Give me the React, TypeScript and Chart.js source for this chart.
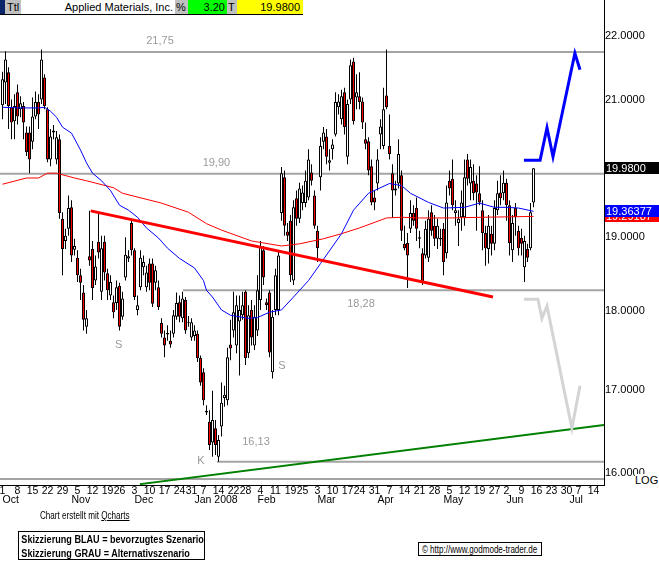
import React, { useEffect, useRef } from 'react';
import { Chart, registerables } from 'chart.js';
Chart.register(...registerables);

const FONT = 'Arial, "Liberation Sans", Helvetica, sans-serif';

// Daily candles of Applied Materials, one per trading day from 1 Oct 2007 (index 0) to 13 Jun 2008
const openP = [20.92,21.27,21.43,20.89,20.68,21.12,20.86,20.91,20.51,20.51,20.37,20.75,20.97,21.01,21.35,20.86,20.11,20.51,20.11,20.41,
19.26,18.95,19.12,19.42,18.83,18.72,18.48,18.25,17.80,18.74,18.84,18.41,18.94,18.26,18.94,18.51,18.21,18.12,18.11,18.34,
17.93,18.45,18.71,19.20,18.82,18.02,18.32,18.59,18.32,18.64,18.64,18.38,18.32,17.85,17.66,17.72,17.62,17.71,17.93,18.12,
17.91,18.15,17.86,17.66,17.68,17.71,17.40,17.22,16.74,16.61,16.36,16.53,16.19,16.55,16.90,16.87,17.57,17.75,17.56,17.87,
17.95,18.26,17.46,18.02,17.56,17.75,18.15,18.82,18.12,18.25,17.22,18.02,18.02,19.34,19.85,19.08,19.23,18.41,19.55,19.26,
19.48,19.48,19.56,19.92,19.59,19.09,19.85,20.37,20.45,20.06,20.26,20.48,20.89,20.71,21.12,20.15,21.01,21.60,21.04,21.06,
20.98,20.41,20.38,20.01,19.56,19.76,20.48,20.31,21.07,20.31,19.91,19.69,19.76,19.88,18.91,18.92,19.12,19.34,19.41,19.00,
18.78,18.75,18.72,19.35,19.16,18.98,18.99,19.12,18.78,19.80,19.83,19.34,19.20,19.28,19.28,20.11,19.76,19.80,19.76,19.62,
19.38,19.06,18.84,19.05,18.91,19.38,19.63,19.62,19.77,19.45,18.82,19.41,19.09,18.99,18.59,18.84,18.85,19.49];
const highP = [21.44,21.76,21.51,21.01,21.09,21.24,21.06,20.97,20.60,20.60,21.04,21.13,21.09,21.79,21.40,20.89,20.56,20.62,20.53,20.48,
19.35,19.12,19.59,19.52,18.98,18.82,18.57,18.35,18.02,19.37,18.95,18.75,19.34,19.02,19.02,18.57,18.48,18.21,18.41,18.38,
18.26,19.00,18.82,19.26,18.85,18.21,18.82,18.75,18.61,18.71,18.71,18.61,18.41,17.91,17.75,17.82,17.75,18.02,18.25,18.21,
18.26,18.19,17.94,17.91,17.82,17.75,17.43,17.27,16.81,16.75,16.99,16.63,16.45,17.09,17.05,17.53,17.89,18.26,18.21,18.21,
18.26,18.28,18.08,18.15,18.08,18.48,18.95,18.88,18.17,18.28,18.02,18.57,18.82,20.00,19.95,19.20,19.31,19.52,19.66,19.77,
19.73,19.95,20.26,20.04,19.66,19.16,20.44,20.59,20.56,20.26,20.41,21.12,21.09,21.16,21.19,21.01,21.63,21.66,21.40,21.43,
21.04,20.66,20.44,20.11,19.66,20.26,20.71,21.19,21.79,20.78,20.04,19.80,20.41,19.95,19.16,19.06,19.52,19.45,19.56,19.09,
18.85,19.23,19.38,19.45,19.31,19.26,19.12,19.20,19.73,19.95,20.11,19.52,19.38,19.66,20.11,20.19,20.11,20.04,19.88,20.01,
19.52,19.16,19.31,19.16,19.52,19.80,19.88,19.95,19.83,19.52,19.31,19.48,19.16,19.12,19.02,18.91,19.48,19.98];
const lowP = [20.71,20.94,20.56,20.41,20.41,20.63,20.74,20.41,20.16,19.91,20.26,20.71,20.56,20.94,20.86,20.07,20.01,20.41,20.04,19.26,
18.48,18.84,19.02,18.66,18.75,18.39,18.15,17.75,17.71,18.61,18.15,18.35,18.71,18.15,18.41,18.15,18.15,17.91,18.02,17.75,
17.89,18.41,18.66,18.75,18.15,17.95,18.28,18.48,18.26,18.28,18.06,18.28,18.02,17.66,17.41,17.62,17.53,17.66,17.89,17.86,
17.86,17.71,17.80,17.62,17.62,17.35,17.05,16.81,16.69,16.27,16.19,16.21,16.13,16.43,16.79,16.81,17.37,17.66,17.46,17.18,
17.89,17.31,17.40,17.56,17.50,17.68,18.02,18.35,18.02,17.41,17.14,17.95,17.95,19.23,19.02,18.95,18.39,18.35,19.16,19.20,
19.38,19.42,19.52,19.73,19.12,18.66,19.66,20.26,20.04,19.95,20.11,20.45,20.78,20.63,20.48,20.04,20.94,20.63,20.86,20.86,
20.56,20.26,19.88,19.45,19.38,19.66,20.26,20.26,20.86,20.11,19.27,19.59,19.69,18.95,18.82,18.31,19.06,19.16,18.95,18.85,
18.35,18.71,18.66,19.02,18.88,18.84,18.88,18.48,18.71,19.59,19.38,19.16,18.88,19.09,19.16,19.73,19.52,19.52,19.09,19.45,
18.82,18.61,18.64,18.75,18.82,19.31,19.45,19.52,19.23,18.75,18.66,19.02,18.75,18.75,18.39,18.66,18.82,19.42];
const closeP = [21.32,21.63,20.91,20.66,20.91,20.75,20.95,20.66,20.22,20.11,20.75,20.97,20.78,21.63,20.91,20.11,20.45,20.54,20.44,19.34,
18.84,19.02,19.41,18.75,18.88,18.48,18.38,17.89,17.91,18.68,18.31,18.60,18.79,18.85,18.52,18.28,18.39,17.99,18.32,17.80,
18.17,18.76,18.74,18.82,18.19,18.08,18.72,18.66,18.52,18.38,18.10,18.55,18.06,17.71,17.56,17.70,17.57,17.95,18.11,17.93,
18.17,17.75,17.85,17.86,17.75,17.40,17.09,16.87,16.72,16.33,16.63,16.33,16.39,16.84,16.94,17.41,17.52,17.99,18.08,18.02,
18.08,17.40,17.95,17.66,17.93,18.28,18.87,18.45,18.08,17.47,17.93,18.48,18.75,19.91,19.16,19.02,18.48,19.42,19.26,19.69,
19.63,19.80,20.11,19.80,19.16,18.85,20.31,20.51,20.15,20.10,20.33,20.97,20.98,21.06,20.59,20.94,21.54,20.68,21.12,20.97,
20.66,20.34,19.95,19.49,19.49,20.11,20.60,20.86,20.89,20.19,19.66,19.66,20.19,19.09,18.85,18.75,19.34,19.23,19.12,18.98,
18.38,19.12,19.26,19.09,18.98,19.16,18.97,18.66,19.49,19.69,19.45,19.38,19.26,19.49,19.85,19.83,20.00,19.62,19.63,19.49,
19.06,18.85,19.16,18.91,19.41,19.62,19.55,19.77,19.45,18.92,19.20,19.28,18.85,18.91,18.95,18.72,19.35,19.98];

// Moving averages (read at selected trading days)
const blueMaIdx = [0,6,12,14,16,18,20,23,26,28,30,33,36,39,42,45,48,52,55,59,64,67,68,70,73,76,82,85,89,93,97,102,105,106,113,117,122,129,133,136,142,147,154,159,164,168,172,177];
const blueMaVal = [20.89,20.88,20.88,20.89,20.83,20.74,20.59,20.50,20.25,20.06,19.91,19.80,19.66,19.45,19.38,19.28,19.13,18.99,18.85,18.71,18.58,18.41,18.28,18.19,18.02,17.95,17.91,17.92,17.99,18.02,18.19,18.41,18.58,18.64,19.05,19.38,19.62,19.76,19.73,19.62,19.49,19.41,19.42,19.48,19.42,19.42,19.41,19.36377];
const redMaIdx = [0,8,12,15,18,24,28,37,40,53,62,68,73,83,93,99,107,113,119,128,133,139,149,160,177];
const redMaVal = [19.75,19.84,19.84,19.91,19.91,19.84,19.80,19.70,19.62,19.48,19.35,19.19,19.10,18.95,18.88,18.91,18.98,19.05,19.13,19.27,19.28,19.27,19.27,19.28,19.29187];

// Horizontal levels
const levelPrice = [21.75, 19.90, 18.28, 16.13, 15.93];
const levelStart = [-1, -1, 60.2, 71.5, -1];
const levelEnd = 201;

// Trend lines and scenario sketches
const redTrendIdx = [29.4, 163.5];
const redTrendVal = [19.37, 18.19];
const greenTrendIdx = [45.8, 200.5];
const greenTrendVal = [15.87, 16.57];
const blueSketchIdx = [173.8, 179.2, 181.5, 183.5, 190.8, 192.5];
const blueSketchVal = [20.10, 20.10, 20.58, 20.15, 21.73, 21.47];
const graySketchIdx = [173.8, 178.5, 179.8, 181.5, 189.8, 192.5];
const graySketchVal = [18.16, 18.16, 17.91, 18.07, 16.53, 17.05];

// Text annotations
const annText = ['21,75', '19,90', '18,28', '16,13', 'K', 'S', 'S'];
const annIdx = [52.5, 71.3, 119.5, 84.5, 66.1, 38.7, 93.1];
const annVal = [21.93, 20.06, 18.10, 16.36, 16.14, 17.56, 17.30];

// Axes
const weekTickIdx = [0,5,10,15,20,25,30,35,39,44,49,54,59,63,67,72,77,81,86,91,96,100,105,110,115,119,124,129,134,139,144,149,154,159,164,168,173,178,183,188,192,197];
const weekTickLabels = ['1','8','15','22','29','5','12','19','26','3','10','17','24','31','7','14','22','28','4','11','19','25','3','10','17','24','31','7','14','21','28','5','12','19','27','2','9','16','23','30','7','14'];
const monthTickIdx = [0,23,44,64,85,105,125,147,168,189];
const monthTickLabels = ['Oct','Nov','Dec','Jan 2008','Feb','Mar','Apr','May','Jun','Jul'];
const priceTicks = [16, 17, 18, 19, 20, 21, 22];
const lastClose = 19.98;

const X_MIN = -0.8333;
const X_MAX = 200.5;

const overlayPlugin = {
  id: 'overlay',
  afterDatasetsDraw(chart: any) {
    const { ctx, scales } = chart;
    ctx.save();
    ctx.font = `11px ${FONT}`;
    ctx.fillStyle = '#9a9a9a';
    ctx.textAlign = 'center';
    ctx.textBaseline = 'middle';
    annText.forEach((t, k) => {
      ctx.fillText(t, scales.x.getPixelForValue(annIdx[k]), scales.y.getPixelForValue(annVal[k]));
    });
    ctx.restore();
  },
  afterDraw(chart: any) {
    const { ctx, scales, chartArea } = chart;
    const badges = [
      { v: redMaVal[redMaVal.length - 1], bg: '#ff0000', t: redMaVal[redMaVal.length - 1].toFixed(5) },
      { v: blueMaVal[blueMaVal.length - 1], bg: '#0000ff', t: blueMaVal[blueMaVal.length - 1].toFixed(5) },
      { v: lastClose, bg: '#000000', t: lastClose.toFixed(4) },
    ];
    ctx.save();
    ctx.font = `11px ${FONT}`;
    ctx.textAlign = 'left';
    ctx.textBaseline = 'middle';
    badges.forEach((b) => {
      const y = scales.y.getPixelForValue(b.v);
      ctx.fillStyle = b.bg;
      ctx.fillRect(chartArea.right + 1, Math.round(y) - 6, chart.width - chartArea.right - 1, 12);
      ctx.fillStyle = '#ffffff';
      ctx.fillText(b.t, chartArea.right + 2, Math.round(y) + 0.5);
    });
    ctx.restore();
  },
};

export default function App() {
  const ref = useRef<HTMLCanvasElement>(null);

  useEffect(() => {
    const canvas = ref.current;
    if (!canvas) return;
    const n = closeP.length;
    const idx = Array.from({ length: n }, (_, i) => i);
    const wicks = idx.map((i) => ({ x: i, y: [lowP[i], highP[i]] }));
    const bodies = idx.map((i) => ({ x: i, y: [Math.min(openP[i], closeP[i]), Math.max(openP[i], closeP[i])] }));
    const bodyColors = idx.map((i) => (closeP[i] >= openP[i] ? '#ffffff' : '#ff0000'));

    const line = (xs: number[], ys: number[], color: string, width: number, order: number) => ({
      type: 'line' as const,
      data: xs.map((x, k) => ({ x, y: ys[k] })),
      borderColor: color,
      borderWidth: width,
      pointRadius: 0,
      tension: 0,
      fill: false,
      xAxisID: 'x',
      yAxisID: 'y',
      order,
    });

    const levelSets = levelPrice.map((p, k) => line([levelStart[k], levelEnd], [p, p], '#a4a4a4', 2, 10));

    const chart = new Chart(canvas, {
      type: 'bar',
      data: {
        datasets: [
          line(blueSketchIdx, blueSketchVal, '#0000ff', 3, 0) as any,
          line(graySketchIdx, graySketchVal, '#d4d4d4', 3, 0) as any,
          line(redTrendIdx, redTrendVal, '#ff0000', 3, 1) as any,
          line(greenTrendIdx, greenTrendVal, '#008000', 2, 1) as any,
          line(blueMaIdx, blueMaVal, '#0000ff', 1, 2) as any,
          line(redMaIdx, redMaVal, '#ff0000', 1, 2) as any,
          {
            type: 'bar',
            data: bodies as any,
            backgroundColor: bodyColors,
            borderColor: '#000000',
            borderWidth: 1,
            borderSkipped: false,
            barThickness: 3,
            inflateAmount: 0,
            grouped: false,
            xAxisID: 'x',
            yAxisID: 'y',
            order: 3,
          } as any,
          {
            type: 'bar',
            data: wicks as any,
            backgroundColor: '#000000',
            borderWidth: 0,
            barThickness: 1,
            inflateAmount: 0,
            grouped: false,
            xAxisID: 'x',
            yAxisID: 'y',
            order: 4,
          } as any,
          ...(levelSets as any[]),
        ],
      },
      options: {
        animation: false,
        responsive: false,
        maintainAspectRatio: false,
        events: [],
        layout: { padding: 0 },
        plugins: { legend: { display: false }, tooltip: { enabled: false }, title: { display: false } },
        scales: {
          x: {
            type: 'linear',
            position: 'bottom',
            min: X_MIN,
            max: X_MAX,
            offset: false,
            bounds: 'data',
            weight: 0,
            grid: { display: false, drawTicks: false },
            border: { display: true, color: '#000000', width: 1 },
            ticks: {
              autoSkip: false,
              maxRotation: 0,
              minRotation: 0,
              padding: 0,
              align: 'center',
              color: '#000000',
              font: { family: FONT, size: 10.5 },
              callback: (_v: any, i: number) => weekTickLabels[i],
            },
            afterBuildTicks: (s: any) => {
              s.ticks = weekTickIdx.map((v) => ({ value: v }));
            },
            afterFit: (s: any) => {
              s.height = 9;
              s.paddingLeft = 0;
              s.paddingRight = 0;
            },
          } as any,
          xm: {
            type: 'linear',
            position: 'bottom',
            min: X_MIN,
            max: X_MAX,
            offset: false,
            bounds: 'data',
            weight: 1,
            grid: { display: false, drawTicks: false },
            border: { display: false },
            ticks: {
              autoSkip: false,
              maxRotation: 0,
              minRotation: 0,
              padding: 0,
              align: 'start',
              color: '#000000',
              font: { family: FONT, size: 10.5 },
              callback: (_v: any, i: number) => monthTickLabels[i],
            },
            afterBuildTicks: (s: any) => {
              s.ticks = monthTickIdx.map((v) => ({ value: v }));
            },
            afterFit: (s: any) => {
              s.height = 69;
              s.paddingLeft = 0;
              s.paddingRight = 0;
            },
          } as any,
          y: {
            type: 'logarithmic',
            position: 'right',
            min: 15.86,
            max: 22.59,
            beginAtZero: false,
            bounds: 'data',
            grid: { display: false, drawTicks: false },
            border: { display: true, color: '#000000', width: 1 },
            ticks: {
              autoSkip: false,
              padding: 1,
              color: '#000000',
              font: { family: FONT, size: 11 },
              callback: (v: any) => Number(v).toFixed(4),
            },
            afterBuildTicks: (s: any) => {
              s.ticks = priceTicks.map((v) => ({ value: v }));
            },
            afterFit: (s: any) => {
              s.width = 55;
              s.paddingTop = 0;
              s.paddingBottom = 0;
            },
          } as any,
        },
      },
      plugins: [overlayPlugin],
    });
    return () => chart.destroy();
  }, []);

  const hdr: React.CSSProperties = {
    position: 'absolute',
    top: 0,
    height: 14,
    lineHeight: '14px',
    fontFamily: FONT,
    fontSize: 11,
    color: '#000',
    overflow: 'hidden',
    whiteSpace: 'nowrap',
    boxSizing: 'border-box',
  };

  return (
    <div style={{ position: 'absolute', left: 0, top: 0, width: 659, height: 563, background: '#fff', overflow: 'hidden' }}>
      <canvas ref={ref} width={659} height={563} style={{ position: 'absolute', left: 0, top: 0, width: 659, height: 563 }} />
      <div style={{ ...hdr, left: 0, width: 5, background: '#0a246a' }} />
      <div style={{ ...hdr, left: 5, width: 16, background: '#c0c0c0', paddingLeft: 2 }}>Ttl</div>
      <div style={{ ...hdr, left: 21, width: 154, background: '#fff', textAlign: 'right', paddingRight: 2 }}>Applied Materials, Inc.</div>
      <div style={{ ...hdr, left: 175, width: 13, background: '#c0c0c0', paddingLeft: 1 }}>%</div>
      <div style={{ ...hdr, left: 188, width: 39, background: '#00ff00', textAlign: 'right', paddingRight: 2 }}>3.20</div>
      <div style={{ ...hdr, left: 227, width: 10, background: '#c0c0c0', paddingLeft: 1 }}>T</div>
      <div style={{ ...hdr, left: 237, width: 66, background: '#ffff00', textAlign: 'right', paddingRight: 3 }}>19.9800</div>
      <div style={{ position: 'absolute', left: 0, top: 14, width: 303, height: 1, background: '#000' }} />

      <div style={{ position: 'absolute', left: 635, top: 474, width: 24, height: 12, background: '#fff', fontFamily: FONT, fontSize: 11, lineHeight: '12px', color: '#000' }}>LOG</div>

      <div style={{ position: 'absolute', left: 40, top: 510, fontFamily: FONT, fontSize: 10, lineHeight: '12px', whiteSpace: 'nowrap', transform: 'scaleX(0.81)', transformOrigin: 'left top', color: '#000' }}>
        Chart erstellt mit <span style={{ textDecoration: 'underline' }}>Qcharts</span>
      </div>

      <div style={{ position: 'absolute', left: 18, top: 531, width: 187, height: 29, border: '1px solid #000', boxSizing: 'border-box', background: '#fff' }}>
        {['Skizzierung BLAU = bevorzugtes Szenario', 'Skizzierung GRAU = Alternativszenario'].map((t) => (
          <div key={t} style={{ fontFamily: FONT, fontWeight: 'bold', fontSize: 11.5, lineHeight: '14px', whiteSpace: 'nowrap', transform: 'scaleX(0.79)', transformOrigin: 'left top', paddingLeft: 3, color: '#000' }}>{t}</div>
        ))}
      </div>

      <div style={{ position: 'absolute', left: 418, top: 542, width: 124, height: 14, border: '1px solid #000', boxSizing: 'border-box', background: '#fff' }}>
        <div style={{ fontFamily: FONT, fontSize: 11, lineHeight: '12px', whiteSpace: 'nowrap', transform: 'scaleX(0.73)', transformOrigin: 'left top', paddingLeft: 4, color: '#000' }}>© http://www.godmode-trader.de</div>
      </div>
    </div>
  );
}
